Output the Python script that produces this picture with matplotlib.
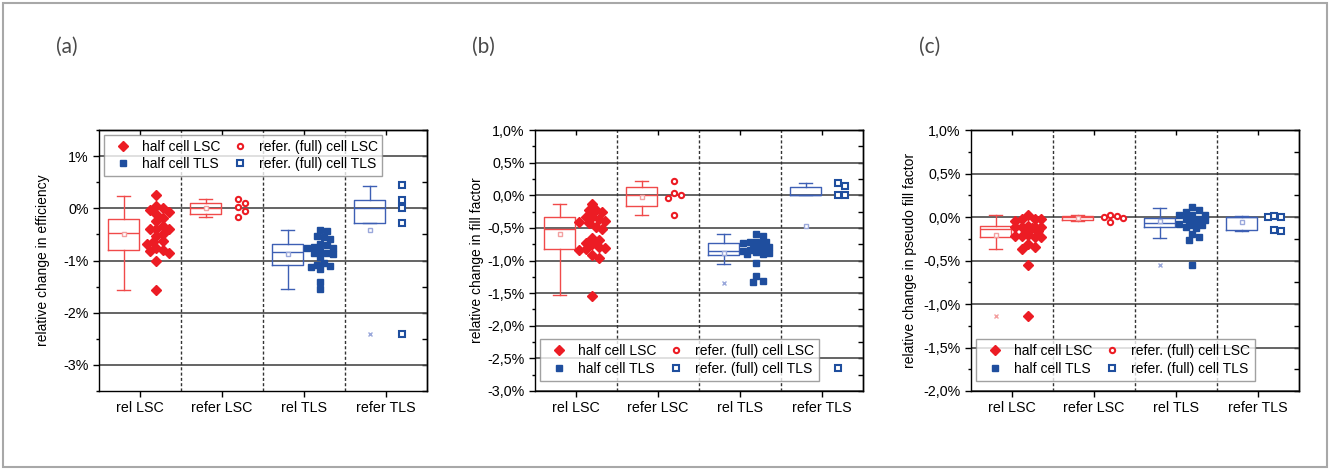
import numpy as np
import matplotlib
matplotlib.use('Agg')
import matplotlib.pyplot as plt
from matplotlib.patches import Rectangle
from matplotlib.lines import Line2D
from matplotlib.ticker import MultipleLocator, FuncFormatter, FixedLocator

plt.rcParams['font.family'] = ['Liberation Sans', 'DejaVu Sans']

categories = ['rel LSC', 'refer LSC', 'rel TLS', 'refer TLS']
panel_labels = ['(a)', '(b)', '(c)']
y_labels = ['relative change in efficiency',
            'relative change in fill factor',
            'relative change in pseudo fill factor']
legend_labels = ['half cell LSC', 'half cell TLS',
                 'refer. (full) cell LSC', 'refer. (full) cell TLS']

# ---------------- panel (a): efficiency ----------------
eff_rel_lsc = [0.25, -0.10, -0.08, 0.04, 0.0, -0.04, -0.19, -0.25, -0.39, -0.40,
               -0.34, -0.40, -0.49, -0.54, -0.65, -0.62, -0.68, -0.77, -0.86,
               -0.80, -0.81, -1.00, -1.56]
eff_refer_lsc = [0.17, 0.10, 0.03, -0.06, -0.16]
eff_rel_tls = [-0.44, -0.42, -0.58, -0.55, -0.53, -0.76, -0.74, -0.71, -0.77,
               -0.69, -0.81, -0.87, -0.85, -0.85, -0.94, -1.05, -1.08, -1.12,
               -1.10, -1.16, -1.42, -1.55]
eff_refer_tls = [0.44, 0.16, 0.0, -0.28, -2.41]
# box stats: (whisker low, q1, median, q3, whisker high, mean)
eff_box = [(-1.56, -0.79, -0.48, -0.20, 0.24, -0.50),
           (-0.16, -0.11, 0.0, 0.11, 0.17, 0.0),
           (-1.55, -1.08, -0.84, -0.69, -0.42, -0.87),
           (-0.28, -0.28, 0.0, 0.15, 0.43, -0.42)]
eff_extremes = [[], [], [], [-2.41]]

# ---------------- panel (b): fill factor ----------------
ff_rel_lsc = [-0.13, -0.22, -0.22, -0.34, -0.26, -0.34, -0.36, -0.40, -0.43,
              -0.41, -0.51, -0.49, -0.65, -0.68, -0.73, -0.75, -0.81, -0.84,
              -0.80, -0.83, -0.91, -0.96, -1.54]
ff_refer_lsc = [0.22, 0.03, 0.0, -0.04, -0.31]
ff_rel_tls = [-0.59, -0.63, -0.73, -0.73, -0.71, -0.72, -0.72, -0.73, -0.80,
              -0.80, -0.83, -0.84, -0.85, -0.87, -0.90, -0.90, -0.89, -1.04,
              -1.24, -1.33, -1.31]
ff_refer_tls = [0.19, 0.14, 0.0, 0.0, -2.65]
ff_box = [(-1.53, -0.82, -0.52, -0.34, -0.13, -0.59),
          (-0.31, -0.17, 0.0, 0.12, 0.22, -0.03),
          (-1.05, -0.92, -0.85, -0.73, -0.59, -0.88),
          (0.0, 0.0, 0.0, 0.13, 0.19, -0.47)]
ff_extremes = [[], [], [-1.35], [-2.65]]

# ---------------- panel (c): pseudo fill factor ----------------
pff_rel_lsc = [0.02, -0.02, -0.02, -0.02, -0.05, -0.11, -0.12, -0.13, -0.11,
               -0.11, -0.10, -0.14, -0.21, -0.23, -0.22, -0.22, -0.16, -0.23,
               -0.37, -0.31, -0.34, -0.55, -1.14]
pff_refer_lsc = [0.02, 0.01, 0.0, -0.01, -0.06]
pff_rel_tls = [0.11, 0.08, 0.06, 0.02, 0.02, 0.02, -0.04, -0.03, -0.02, -0.02,
               -0.08, -0.08, -0.08, -0.09, -0.09, -0.12, -0.13, -0.20, -0.23,
               -0.27, -0.55]
pff_refer_tls = [0.01, 0.0, 0.0, -0.16, -0.145]
pff_box = [(-0.37, -0.23, -0.14, -0.10, 0.02, -0.21),
           (-0.05, -0.03, 0.0, 0.015, 0.02, -0.01),
           (-0.24, -0.11, -0.065, -0.01, 0.10, -0.05),
           (-0.16, -0.15, 0.0, 0.0, 0.01, -0.06)]
pff_extremes = [[-1.14], [], [-0.55], []]

panels = [
    dict(points=[eff_rel_lsc, eff_refer_lsc, eff_rel_tls, eff_refer_tls],
         box=eff_box, ext=eff_extremes, ylim=(-3.5, 1.5), major=1.0, minor=0.5,
         fmt=lambda v: '%d%%' % round(v)),
    dict(points=[ff_rel_lsc, ff_refer_lsc, ff_rel_tls, ff_refer_tls],
         box=ff_box, ext=ff_extremes, ylim=(-3.0, 1.0), major=0.5, minor=0.25,
         fmt=lambda v: ('%.1f%%' % v).replace('.', ',')),
    dict(points=[pff_rel_lsc, pff_refer_lsc, pff_rel_tls, pff_refer_tls],
         box=pff_box, ext=pff_extremes, ylim=(-2.0, 1.0), major=0.5, minor=0.25,
         fmt=lambda v: ('%.1f%%' % v).replace('.', ',')),
]

W, H = 1330, 470
fig = plt.figure(figsize=(W / 100, H / 100), dpi=100)
fig.patches.append(Rectangle((3 / W, 3 / H), 1 - 6 / W, 1 - 6 / H,
                             transform=fig.transFigure, fill=False,
                             ec='#a8a8a8', lw=1.5))

RED = '#ec1c24'
RED_BOX = '#f04a4a'
BLUE = '#1f4e9e'
BLUE_BOX = '#3d5fb4'
series_color = [RED, RED, BLUE, BLUE]
box_color = [RED_BOX, RED_BOX, BLUE_BOX, BLUE_BOX]
mean_color = ['#f3a0a0', '#f3a0a0', '#9aa8db', '#9aa8db']
marker_shape = ['D', 'o', 's', 's']
marker_fill = [True, False, True, False]
marker_size = [5.0, 3.8, 4.4, 3.9]

ax_lefts = [99, 535, 971]
ax_w = 328
ax_top, ax_bot = 130, 391
label_x = [67, 483, 930]
ylabel_off = [49, 51, 54]


def swarm(vals, ax, center, d_px, max_px):
    """Deterministic beeswarm layout of points around a centre position."""
    bbox = ax.get_window_extent()
    x0, x1 = ax.get_xlim()
    y0, y1 = ax.get_ylim()
    sx = bbox.width / (x1 - x0)
    sy = bbox.height / (y1 - y0)
    vals = np.asarray(vals, float)
    order = np.argsort(-vals)
    step = d_px / 2.0
    cands = [0.0]
    k = 1
    while k * step <= max_px + 1e-9:
        cands += [k * step, -k * step]
        k += 1
    placed = []
    xs = np.zeros(len(vals))
    for i in order:
        ypx = vals[i] * sy
        best, best_d = None, -1.0
        for c in cands:
            if placed:
                dmin = min(np.hypot(c - px, ypx - py) for px, py in placed)
            else:
                dmin = np.inf
            if dmin >= d_px:
                best = c
                break
            if dmin > best_d + 0.5:
                best, best_d = c, dmin
        placed.append((best, ypx))
        xs[i] = center + best / sx
    return xs


for p, cfg in enumerate(panels):
    left = ax_lefts[p]
    ax = fig.add_axes([left / W, 1 - ax_bot / H, ax_w / W, (ax_bot - ax_top) / H])
    ax.set_xlim(0.5, 4.5)
    ax.set_ylim(*cfg['ylim'])

    # grid and separators
    lo, hi = cfg['ylim']
    mj = cfg['major']
    majors = np.arange(np.ceil(lo / mj - 1e-9) * mj, hi + 1e-9, mj)
    for g in majors:
        ax.axhline(g, color='#4a4a4a', lw=1.2, zorder=0.5)
    for s in [1.5, 2.5, 3.5]:
        ax.axvline(s, color='#333333', lw=1.0, ls=(0, (2.2, 1.6)), zorder=0.6)

    # boxes
    for i, st in enumerate(cfg['box']):
        wl, q1, med, q3, wh, mean = st
        stats = [dict(whislo=wl, q1=q1, med=med, q3=q3, whishi=wh, mean=mean,
                      fliers=cfg['ext'][i])]
        c = box_color[i]
        ax.bxp(stats, positions=[i + 1 - 0.2], widths=0.38, capwidths=0.15,
               showmeans=True, showfliers=True, manage_ticks=False,
               boxprops=dict(color=c, lw=1.0),
               whiskerprops=dict(color=c, lw=1.0),
               capprops=dict(color=c, lw=1.0),
               medianprops=dict(color=c, lw=1.0),
               meanprops=dict(marker='s', markersize=3.2, markerfacecolor='white',
                              markeredgecolor=mean_color[i], markeredgewidth=1.0),
               flierprops=dict(marker='x', markersize=3.2, markeredgecolor=mean_color[i],
                               markeredgewidth=1.0))

    # points
    for i, vals in enumerate(cfg['points']):
        xs = swarm(vals, ax, i + 1 + 0.2, 6.5, 14.0)
        col = series_color[i]
        ax.plot(xs, vals, ls='none', marker=marker_shape[i], ms=marker_size[i],
                mfc=col if marker_fill[i] else 'white', mec=col,
                mew=1.0 if marker_fill[i] else 1.5, zorder=3)

    # ticks
    ax.xaxis.set_major_locator(FixedLocator([1, 2, 3, 4]))
    ax.set_xticklabels(categories, fontsize=10.3)
    ax.yaxis.set_major_locator(FixedLocator(list(majors)))
    ax.yaxis.set_minor_locator(MultipleLocator(cfg['minor']))
    ax.yaxis.set_major_formatter(FuncFormatter(lambda v, pos, f=cfg['fmt']: f(v)))
    ax.tick_params(axis='y', which='major', direction='out', length=4, width=1,
                   labelsize=10.3, right=False)
    ax.tick_params(axis='y', which='minor', direction='out', length=2.5, width=1,
                   right=False)
    ax.tick_params(axis='x', direction='out', length=4, width=1, labelsize=10.3)
    axr = ax.secondary_yaxis('right')
    axr.yaxis.set_major_locator(FixedLocator(list(majors)))
    axr.yaxis.set_minor_locator(MultipleLocator(cfg['minor']))
    axr.tick_params(which='both', direction='in', length=3.5, width=1, labelright=False)
    axt = ax.secondary_xaxis('top')
    axt.xaxis.set_major_locator(FixedLocator([1, 2, 3, 4]))
    axt.tick_params(direction='in', length=3.5, width=1, labeltop=False)
    for sp in list(ax.spines.values()) + [axr.spines['right'], axt.spines['top']]:
        sp.set_linewidth(1.0)

    ax.set_ylabel(y_labels[p], fontsize=10)
    ax.yaxis.set_label_coords(-ylabel_off[p] / ax_w, 0.5)

    # legend
    handles = []
    for i in [0, 2, 1, 3]:
        col = series_color[i]
        handles.append(Line2D([], [], ls='none', marker=marker_shape[i],
                              ms=marker_size[i],
                              mfc=col if marker_fill[i] else 'white', mec=col,
                              mew=1.0 if marker_fill[i] else 1.5))
    if p == 0:
        loc, anchor = 'upper left', (0.015, 0.981)
    else:
        loc, anchor = 'lower left', (0.016, 0.04)
    leg = ax.legend(handles, legend_labels, ncol=2, loc=loc, bbox_to_anchor=anchor,
                    borderaxespad=0, fontsize=10, frameon=True, fancybox=False,
                    handlelength=2.0, handletextpad=0.37, columnspacing=0.4,
                    labelspacing=0.25, borderpad=0.35)
    leg.get_frame().set_edgecolor('#8a8a8a')
    leg.get_frame().set_linewidth(1.0)
    leg.set_zorder(5)

    fig.text(label_x[p] / W, 1 - 47 / H, panel_labels[p], ha='center', va='center',
             fontsize=15, color='#4a4a4a', family=['Lato', 'DejaVu Sans'])

fig.savefig('out.png', dpi=100)
